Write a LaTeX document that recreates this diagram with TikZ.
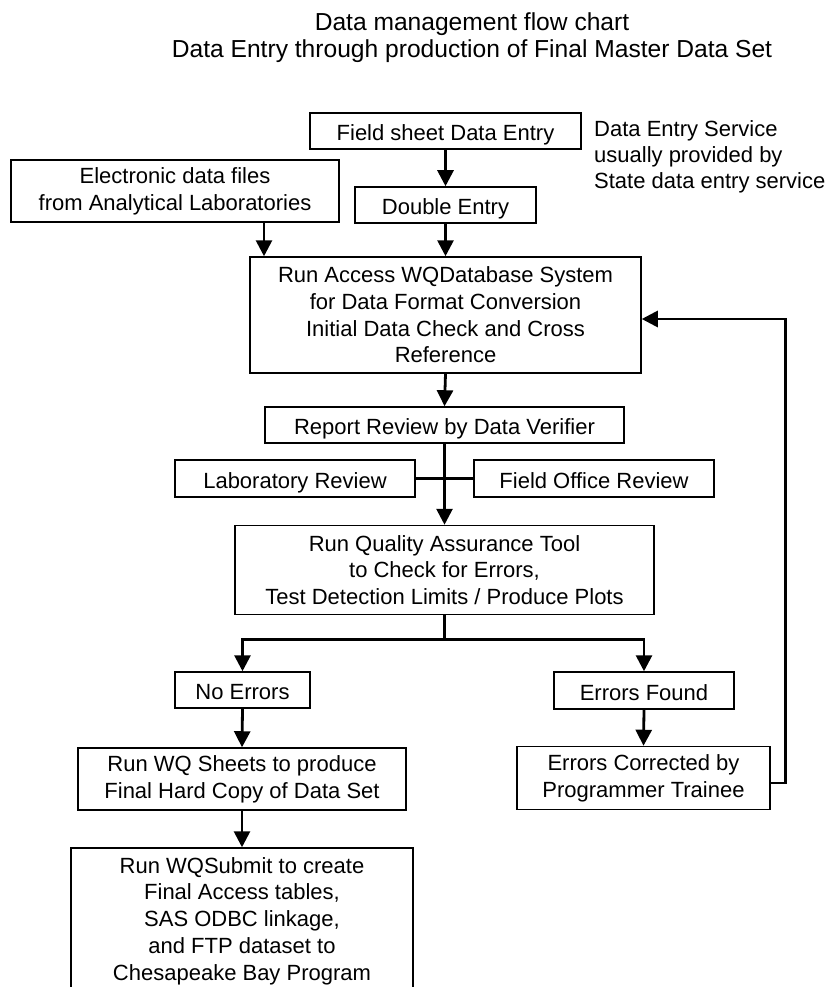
\documentclass[tikz,border=0pt]{standalone}
\usepackage{fontspec}
\setmainfont{Liberation Sans}
\usetikzlibrary{arrows.meta,calc}
\begin{document}
\begin{tikzpicture}[x=1pt,y=-1pt,
  box/.style={draw,line width=1.5pt,inner sep=0pt,align=center,
    font=\fontsize{22}{26.7}\selectfont},
  one/.style={text height=19pt,text depth=0pt},
  arr/.style={line width=2.8pt,-{Triangle[width=16pt,length=16pt]}},
  conn/.style={line width=2.8pt}]
\useasboundingbox (0,0) rectangle (827,987);
\clip (0,0) rectangle (827,987);
\fill[white] (0,0) rectangle (827,987);

\node[align=center,font=\fontsize{24.6}{27}\selectfont] (title) at (472,38)
  {Data management flow chart\\Data Entry through production of Final Master Data Set};

\node[box,one,minimum width=271pt,minimum height=36pt] (field) at (445.5,131) {Field sheet Data Entry};
\node[anchor=west,align=left,inner sep=0pt,font=\fontsize{22}{26}\selectfont] (note) at (594,157)
  {Data Entry Service\\usually provided by\\State data entry service};
\node[box,one,minimum width=181pt,minimum height=36pt] (dbl) at (445.5,205) {Double Entry};
\node[box,minimum width=328pt,minimum height=62pt] (elec) at (175,191)
  {Electronic data files\\from Analytical Laboratories};
\node[box,minimum width=391pt,minimum height=116pt] (access) at (445.5,315)
  {Run Access WQDatabase System\\for Data Format Conversion\\Initial Data Check and Cross\\Reference};
\node[box,one,minimum width=359pt,minimum height=36pt] (report) at (444.5,425) {Report Review by Data Verifier};
\node[box,one,minimum width=240pt,minimum height=37pt] (lab) at (295,478.5) {Laboratory Review};
\node[box,one,minimum width=240pt,minimum height=37pt] (fieldoff) at (594,478.5) {Field Office Review};
\node[box,minimum width=419pt,minimum height=89pt] (qa) at (444.5,570)
  {Run Quality Assurance Tool\\to Check for Errors,\\Test Detection Limits / Produce Plots};
\node[box,one,minimum width=135pt,minimum height=36pt] (noerr) at (242.5,690) {No Errors};
\node[box,one,minimum width=180pt,minimum height=37pt] (errf) at (644,690.5) {Errors Found};
\node[box,minimum width=328pt,minimum height=62pt] (sheets) at (242,779)
  {Run WQ Sheets to produce\\Final Hard Copy of Data Set};
\node[box,minimum width=253pt,minimum height=63pt] (corr) at (643.5,778)
  {Errors Corrected by\\Programmer Trainee};
\node[box,minimum width=342pt,minimum height=146pt] (submit) at (242,921)
  {Run WQSubmit to create\\Final Access tables,\\SAS ODBC linkage,\\and FTP dataset to\\Chesapeake Bay Program};

\draw[arr] (field.south) -- (dbl.north);
\draw[arr] (dbl.south) -- (access.north);
\draw[arr] ([xshift=89pt]elec.south) -- ([xshift=89pt]elec.south |- access.north);
\draw[arr] (access.south) -- (report.north);
\draw[arr] (report.south) -- (qa.north);
\draw[conn] (lab.east) -- (fieldoff.west);
\draw[conn] (qa.south) -- ++(0,24) coordinate (split);
\draw[arr] (split) -| (noerr.north);
\draw[arr] (split) -| (errf.north);
\draw[arr] (noerr.south) -- (sheets.north);
\draw[arr] (sheets.south) -- (submit.north);
\draw[arr] (errf.south) -- (corr.north);
\draw[arr] ([yshift=-5pt]corr.east) -- ++(15pt,0) coordinate (fb) |- ([yshift=-4pt]access.east);
\end{tikzpicture}
\end{document}
